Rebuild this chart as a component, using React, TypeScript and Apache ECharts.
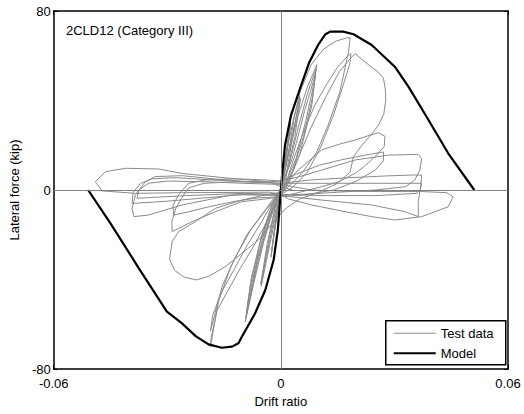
import { useEffect, useRef } from "react";
import * as echarts from "echarts";

// Envelope from the analytical model: [drift ratio, lateral force (kip)]
const modelNegative = [
  [-0.0509, 0], [-0.045, -14.9], [-0.0375, -35], [-0.0301, -54.4], [-0.0261, -59.6],
  [-0.0225, -65.3], [-0.0191, -69], [-0.0156, -70.5], [-0.0129, -70], [-0.0112, -68.5],
  [-0.0103, -65.6], [-0.0068, -55.1], [-0.0041, -44.7], [-0.0019, -31.3],
  [-0.0008, -17.9], [-0.0002, -4.5], [0, 0],
];
const modelPositive = [
  [0.0003, 6.1], [0.0011, 20], [0.0027, 33.5], [0.0052, 46], [0.0075, 57], [0.0099, 65],
  [0.0117, 69.5], [0.013, 70.8], [0.0165, 70.8], [0.0192, 69.6], [0.024, 64.8],
  [0.0301, 55.1], [0.0337, 46.2], [0.039, 31.3], [0.0442, 16.4], [0.0511, 0],
];

// Measured hysteresis, cycle groups in loading order
const cyclesSmall = [
  [0, 0], [0.0012, 15], [0.0025, 29], [0.0016, 18], [0.0003, 4], [-0.001, -11], [-0.0025, -28],
  [-0.0016, -17], [-0.0003, -3], [0.0013, 15], [0.0026, 30], [0.0014, 14], [0, 1],
  [-0.0013, -14], [-0.0026, -30], [-0.0013, -12], [0, 0],
  [0.002, 21], [0.0035, 33], [0.005, 42], [0.0038, 30], [0.0016, 9], [-0.0004, -3],
  [-0.002, -17], [-0.0036, -30], [-0.0052, -43], [-0.004, -30], [-0.0016, -8], [0.0004, 3],
  [0.002, 17], [0.0036, 29], [0.0052, 41], [0.0037, 24], [0.001, 3], [-0.001, -6],
  [-0.003, -23], [-0.0053, -42], [-0.0036, -24], [-0.001, -4], [0, 0],
];
const cyclesOnePct = [
  [0.002, 16], [0.0045, 33], [0.007, 46], [0.0095, 56], [0.0088, 48], [0.0066, 31], [0.004, 14],
  [0.0015, 4], [-0.0015, -6], [-0.0045, -23], [-0.0072, -42], [-0.0094, -59], [-0.0087, -50],
  [-0.0064, -32], [-0.0036, -14], [-0.001, -3],
  [0.002, 10], [0.0046, 28], [0.0072, 44], [0.0093, 54], [0.0083, 41], [0.006, 24], [0.003, 8],
  [0, -1], [-0.003, -12], [-0.0062, -33], [-0.0092, -57], [-0.0081, -43], [-0.0057, -25],
  [-0.003, -10], [0, 1],
  [0.003, 14], [0.0062, 35], [0.0092, 52], [0.0081, 37], [0.005, 16], [0.002, 3], [-0.002, -8],
  [-0.006, -30], [-0.009, -55], [-0.0079, -40], [-0.005, -20], [-0.002, -5], [0, 0],
];
const cyclesTwoPct = [
  [0.002, 16], [0.0035, 32], [0.0051, 44], [0.008, 56], [0.0113, 63], [0.0145, 66.5],
  [0.0174, 68], [0.0183, 68], [0.0179, 62], [0.0156, 44], [0.0125, 29], [0.0095, 17],
  [0.0062, 9], [0.0042, 5], [0.001, 0],
  [-0.002, -4], [-0.0046, -10], [-0.009, -20], [-0.0134, -35], [-0.0165, -50],
  [-0.0186, -70], [-0.0184, -66], [-0.0169, -54], [-0.014, -45], [-0.0107, -35],
  [-0.0075, -26], [-0.0046, -17], [-0.001, -5], [0.001, 1],
  [0.003, 12], [0.006, 26], [0.009, 38], [0.012, 47], [0.015, 55], [0.0172, 59], [0.0185, 61],
  [0.0183, 57], [0.0165, 47], [0.0138, 33], [0.0105, 19], [0.007, 8], [0.003, 1],
  [-0.001, -3], [-0.004, -9], [-0.008, -18], [-0.012, -30], [-0.0155, -43], [-0.0186, -63],
  [-0.018, -56], [-0.0158, -46], [-0.0125, -36], [-0.009, -25], [-0.005, -14], [-0.001, -2],
];
const cycleThreePctFirst = [
  [0.002, 4], [0.005, 16], [0.008, 28], [0.012, 42], [0.0155, 53], [0.0185, 59], [0.0196, 61],
  [0.0213, 58.5], [0.0235, 55.5], [0.0255, 53], [0.0271, 50], [0.0276, 45], [0.0277, 40],
  [0.0272, 34], [0.0258, 29], [0.024, 25], [0.0214, 20], [0.0192, 15], [0.0183, 8],
  [0.015, 3], [0.01, -1], [0.005, -4], [0.0015, -8],
  [-0.0015, -13.4], [-0.0059, -22.3], [-0.0103, -28.3], [-0.0147, -34.3], [-0.019, -38.5],
  [-0.0222, -40.2], [-0.0255, -39], [-0.028, -36], [-0.0294, -31], [-0.0287, -23],
  [-0.027, -18.6], [-0.0226, -14.2], [-0.0173, -8.2], [-0.0103, -4.5], [-0.005, -2.5], [0, -1],
];
const cyclesThreePct = [
  [0.004, 8], [0.0108, 17.9], [0.0155, 20.5], [0.0196, 22.3], [0.0235, 24.5], [0.0258, 25.6],
  [0.0275, 24], [0.0273, 19.4], [0.0249, 14.9], [0.022, 10.5], [0.0196, 7.4], [0.015, 3.5],
  [0.0108, 1.5], [0.005, -1], [0, -3],
  [-0.004, -4], [-0.0103, -5.2], [-0.0173, -9.7], [-0.0235, -14.2], [-0.0287, -18.6],
  [-0.0288, -14], [-0.0277, -8], [-0.026, -3], [-0.0243, 1], [-0.0203, 3], [-0.012, 3.7],
  [-0.0032, 3.7], [0, 4],
  [0.004, 7], [0.01, 11], [0.016, 13.5], [0.022, 15.5], [0.0271, 17], [0.0271, 13],
  [0.025, 9], [0.02, 4], [0.014, 0], [0.007, -2], [0, -3],
  [-0.006, -3.5], [-0.012, -5], [-0.019, -7.5], [-0.025, -10], [-0.0283, -11.2],
  [-0.0285, -7], [-0.027, -2], [-0.0243, 3], [-0.02, 4.5], [-0.012, 5], [-0.004, 4.5], [0, 4],
];
const cyclesFourPct = [
  [0.005, 6], [0.0108, 8.9], [0.0196, 13.4], [0.0284, 15.6], [0.0363, 15.9], [0.0372, 14],
  [0.0367, 8.9], [0.0354, 4.5], [0.033, 1.5], [0.025, 0], [0.015, -1], [0.005, -2], [0, -2],
  [-0.0129, -2.2], [-0.0261, -6.7], [-0.035, -11.2], [-0.0388, -11.9], [-0.0393, -8.2],
  [-0.0384, -2.2], [-0.0358, 3.7], [-0.0332, 6], [-0.0261, 6.4], [-0.0173, 4.9],
  [-0.0085, 3.7], [0, 3],
  [0.008, 4.5], [0.018, 5.5], [0.028, 6.3], [0.035, 6.7], [0.0372, 6.7], [0.037, 2],
  [0.0363, -5], [0.0363, -11.9], [0.0328, -9.7], [0.024, -6.7], [0.0108, -4.5], [0, -2.5],
  [-0.01, -2], [-0.02, -3.5], [-0.03, -5], [-0.0393, -6], [-0.039, -1], [-0.037, 3],
  [-0.034, 5], [-0.028, 5.5], [-0.018, 4.5], [-0.008, 3.5], [0, 3],
  [0.01, 3], [0.02, 3], [0.03, 3], [0.0372, 3], [0.0368, 0], [0.036, -1.5], [0.025, -2.5],
  [0.012, -2.5], [0, -2],
  [-0.01, -1.5], [-0.025, -2.5], [-0.038, -3.7], [-0.0375, 0], [-0.035, 3], [-0.03, 4],
  [-0.02, 3.7], [-0.01, 3], [0, 2.5],
];
const cycleFivePct = [
  [0.008, 0], [0.017, -0.5], [0.026, -0.7], [0.0372, -0.7], [0.0438, -1.2], [0.0455, -3],
  [0.0442, -7.5], [0.0372, -11.9], [0.0301, -13.4], [0.024, -11.9], [0.017, -9.7],
  [0.0082, -6.7], [0.002, -4], [0, -2],
  [-0.003, -1], [-0.0261, -1.2], [-0.0384, -1.5], [-0.0472, -0.4], [-0.049, 3.7],
  [-0.0463, 8.2], [-0.041, 9.7], [-0.0323, 9.4], [-0.0261, 7.4], [-0.015, 5.5],
  [-0.0032, 3.7], [0, 1.5], [0.003, 0],
];

const xTicks = { min: -0.06, max: 0.06, step: 0.06 };
const yTicks = { min: -80, max: 80, step: 80 };

const FONT = "'Liberation Sans', Arial, Helvetica, sans-serif";
const TEST_GRAY = "#8a8a8a";

export default function App() {
  const ref = useRef<HTMLDivElement>(null);

  useEffect(() => {
    const chart = echarts.init(ref.current!, null, { renderer: "svg" });

    const testData = [
      ...cyclesSmall,
      ...cyclesOnePct,
      ...cyclesTwoPct,
      ...cycleThreePctFirst,
      ...cyclesThreePct,
      ...cyclesFourPct,
      ...cycleFivePct,
    ];
    const modelData = [...modelNegative, ...modelPositive];

    const frame = { color: "#000", width: 1.5 };
    const tick = { inside: true, length: 4, lineStyle: { color: "#000", width: 1 } };
    const labelStyle = { color: "#000", fontSize: 13, fontFamily: FONT };

    chart.setOption({
      animation: false,
      grid: { left: 53, right: 16, top: 11, bottom: 45, containLabel: false },
      xAxis: [
        {
          type: "value",
          position: "bottom",
          min: xTicks.min,
          max: xTicks.max,
          interval: xTicks.step,
          axisLine: { show: true, onZero: false, lineStyle: frame },
          axisTick: tick,
          axisLabel: { ...labelStyle, margin: 8, showMinLabel: true, showMaxLabel: true },
          splitLine: { show: false },
          name: "Drift ratio",
          nameLocation: "middle",
          nameGap: 21,
          nameTextStyle: labelStyle,
        },
        {
          type: "value",
          position: "top",
          min: xTicks.min,
          max: xTicks.max,
          interval: xTicks.step,
          axisLine: { show: true, onZero: false, lineStyle: frame },
          axisTick: tick,
          axisLabel: { show: false },
          splitLine: { show: false },
        },
      ],
      yAxis: [
        {
          type: "value",
          position: "left",
          min: yTicks.min,
          max: yTicks.max,
          interval: yTicks.step,
          axisLine: { show: true, onZero: false, lineStyle: frame },
          axisTick: tick,
          axisLabel: { ...labelStyle, margin: 3, showMinLabel: true, showMaxLabel: true },
          splitLine: { show: false },
          name: "Lateral force (kip)",
          nameLocation: "middle",
          nameGap: 30,
          nameTextStyle: labelStyle,
        },
        {
          type: "value",
          position: "right",
          min: yTicks.min,
          max: yTicks.max,
          interval: yTicks.step,
          axisLine: { show: true, onZero: false, lineStyle: frame },
          axisTick: tick,
          axisLabel: { show: false },
          splitLine: { show: false },
        },
      ],
      series: [
        {
          type: "line",
          name: "Test data",
          data: testData,
          symbol: "none",
          showSymbol: false,
          lineStyle: { color: TEST_GRAY, width: 1 },
          emphasis: { disabled: true },
          z: 2,
          markLine: {
            silent: true,
            symbol: "none",
            label: { show: false },
            lineStyle: { color: "#808080", width: 1, type: "solid" },
            emphasis: { disabled: true },
            data: [{ xAxis: 0 }, { yAxis: 0 }],
          },
        },
        {
          type: "line",
          name: "Model",
          data: modelData,
          symbol: "none",
          showSymbol: false,
          lineStyle: { color: "#000", width: 2.2 },
          emphasis: { disabled: true },
          z: 3,
        },
      ],
      graphic: [
        {
          type: "text",
          left: 66,
          top: 24,
          style: { text: "2CLD12 (Category III)", fill: "#000", fontSize: 13, fontFamily: FONT },
          z: 10,
        },
        {
          type: "group",
          left: 385,
          top: 320,
          z: 10,
          children: [
            {
              type: "rect",
              shape: { x: 0, y: 0, width: 120, height: 44 },
              style: { fill: "#fff", stroke: "#000", lineWidth: 1.5 },
            },
            {
              type: "line",
              shape: { x1: 8, y1: 12.5, x2: 50, y2: 12.5 },
              style: { stroke: TEST_GRAY, lineWidth: 1 },
            },
            {
              type: "text",
              x: 55,
              y: 12.5,
              style: { text: "Test data", fill: "#000", fontSize: 13, fontFamily: FONT, verticalAlign: "middle" },
            },
            {
              type: "line",
              shape: { x1: 8, y1: 32.5, x2: 50, y2: 32.5 },
              style: { stroke: "#000", lineWidth: 2.2 },
            },
            {
              type: "text",
              x: 55,
              y: 32.5,
              style: { text: "Model", fill: "#000", fontSize: 13, fontFamily: FONT, verticalAlign: "middle" },
            },
          ],
        },
      ],
    });

    return () => chart.dispose();
  }, []);

  return (
    <div
      ref={ref}
      style={{ position: "absolute", left: 0, top: 0, width: 524, height: 414, background: "#fff" }}
    />
  );
}
